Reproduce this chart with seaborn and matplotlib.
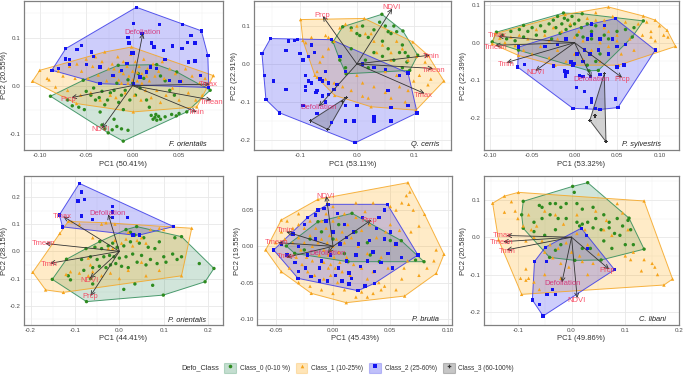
import pandas as pd
import matplotlib
matplotlib.use("Agg")
import matplotlib.pyplot as plt
import seaborn as sn
from matplotlib.lines import Line2D
from matplotlib.patches import Patch
from matplotlib.legend_handler import HandlerTuple
from matplotlib.ticker import AutoMinorLocator

# points, one list per panel and class
p1_c0 = [(-.0885,-.0221),(-.0532,.0111),(-.0155,.0422),(.0259,.0436),(.0475,.0284),(.0835,-.0097),(.0583,-.0547),(-.0101,-.1156),(-.0263,-.0983),
 (-.07,-.03),(-.065,-.042),(-.058,-.045),(-.052,-.05),(-.05,-.012),(-.045,-.02),(-.042,-.005),(-.04,-.03),(-.036,-.025),(-.033,-.012),(-.03,-.04),(-.027,-.03),(-.024,-.015),(-.02,-.01),(-.017,.005),(-.015,-.035),(-.012,-.02),(-.01,-.05),(-.008,-.01),(-.005,.012),(-.003,-.03),(0,.005),(.003,-.02),(.006,.025),(.008,-.005),(.012,.015),(.015,-.03),(.018,-.045),(.02,-.062),(.022,-.07),(.024,-.066),(.025,-.06),(.026,-.072),(.028,-.064),(.03,-.07),(.035,-.065),(.042,-.06),(.047,-.063),(.05,-.058),(.03,.02),(.035,.01),(.04,-.01),(.045,-.02),(-.033,-.082),(-.03,-.09),(-.022,-.092),(-.017,-.085),(-.012,-.09),(-.005,-.093),(-.02,-.07),(-.035,-.055)]
p1_c1 = [(-.1079,.009),(-.1,.0318),(-.0011,.0803),(.087,.0208),(.0691,-.0443),(.0007,-.0547),(-.0604,-.0374),
 (-.092,.015),(-.09,.012),(-.083,-.003),(-.08,.03),(-.075,.02),(-.07,-.01),(-.068,.04),(-.062,.015),(-.06,.045),(-.056,-.02),(-.055,.03),(-.05,.055),(-.048,.015),(-.045,-.015),(-.043,.04),(-.04,.06),(-.037,.022),(-.035,-.03),(-.033,.05),(-.03,.07),(-.028,.01),(-.026,.035),(-.024,-.02),(-.022,.045),(-.02,.02),(-.018,-.025),(-.016,.06),(-.014,.03),(-.012,.005),(-.01,.05),(-.008,-.015),(-.006,.04),(-.004,.02),(-.002,.065),(0,.03),(.002,-.02),(.003,.05),(.005,.01),(.007,.04),(.009,-.03),(.01,.025),(.012,.055),(.014,-.01),(.016,.035),(.018,.01),(.02,-.025),(.022,.045),(.024,.02),(.026,-.01),(.028,.03),(.03,-.035),(.032,.05),(.034,.015),(.036,-.02),(.04,.035),(.043,-.005),(.046,.025),(.05,-.03),(.053,.01),(.057,.035),(.06,-.015),(.064,.02),(.068,-.03),(.072,.005),(.075,-.02),(.078,.015),(-.015,.012),(-.005,.005),(.005,.028),(.015,.02),(-.01,.025),(.0,.012),(.01,.005),(-.02,.035)]
p1_c2 = [(-.087,.032),(-.072,.077),(.004,.163),(.054,.127),(.074,.114),(.081,.063),(.082,-.004),(-.035,.004),
 (.001,.129),(.029,.127),(.01,.108),(-.005,.1),(-.004,.089),(.02,.089),(.023,.08),(-.055,.084),(-.06,.075),(-.044,.07),(-.042,.06),(-.072,.055),(-.068,.054),(-.068,.044),(-.08,.035),(-.05,.044),(-.001,.068),(.001,.068),(.033,.073),(.043,.082),(.053,.077),(.059,.09),(.067,.089),(.063,.104),(.067,.051),(.06,.049),(.035,.054),(.019,.039),(.026,.035),(.015,.028),(-.006,.046),(-.012,.032),(.008,.018),(-.035,.039),(-.021,.021),(.001,.004),(.04,.011),(.051,.008),(.073,.021)]
p2_c0 = [(.044,.131),(.081,.087),(.107,.023),(.093,-.017),(-.019,-.026),(-.042,.058),(-.025,.098),
 (-.01,.095),(0,.08),(.005,.075),(.01,.1),(.02,.07),(.03,.09),(.04,.11),(.05,.1),(.055,.085),(.06,.08),(.065,.1),(.07,.085),(.045,.06),(.055,.04),(.08,.05),(.085,.03),(.09,.02),(.075,.03),(.065,.01),(.045,.02),(.03,.03),(.015,.01),(-.01,.04),(-.03,.01),(-.02,-.01),(.02,-.01),(.08,-.01),(.088,.005)]
p2_c1 = [(-.099,.117),(.013,.12),(.0985,.058),(.125,.023),(.153,-.045),(.104,-.122),(.025,-.113),(-.039,-.083),(-.074,-.03),(-.095,.062),
 (-.08,.07),(-.09,.056),(-.055,.075),(-.05,.07),(-.045,.065),(-.04,.06),(-.03,.095),(-.02,.105),(-.01,.09),(0,.1),(.015,.08),(.025,.08),(.03,.06),(.045,.05),(.06,.03),(.07,.06),(.08,.04),(.09,.01),(.105,.02),(.12,.005),(.13,-.01),(.11,-.03),(.13,-.04),(.125,-.055),(.1,-.045),(.09,-.07),(.075,-.06),(.085,-.1),(.06,-.09),(.05,-.075),(.03,-.06),(.02,-.09),(.01,-.085),(-.01,-.07),(-.025,-.06),(-.04,-.05),(-.055,-.04),(-.07,-.02),(-.065,.005),(-.07,-.035),(-.06,.02),(-.05,.04),(-.03,.02),(-.02,-.02),(0,-.03),(.01,-.05),(.05,-.02),(.07,-.03),(.035,.03),(.06,.01)]
p2_c2 = [(-.167,.027),(-.152,.067),(-.045,.064),(.09,-.024),(.106,-.129),(-.003,-.208),(-.136,-.129),(-.16,-.094),
 (-.12,.06),(-.11,.062),(-.105,.064),(-.125,.035),(-.1,.028),(-.095,.01),(-.085,.02),(-.08,.05),(-.075,.03),(-.09,-.03),(-.085,-.045),(-.08,-.05),(-.09,-.06),(-.09,-.07),(-.125,-.068),(-.147,-.045),(-.163,-.03),(-.07,-.07),(-.072,-.075),(-.055,-.02),(-.065,-.04),(-.06,-.045),(-.035,-.055),(-.04,-.068),(-.05,-.08),(-.095,-.11),(-.07,-.13),(-.055,-.1),(-.02,-.11),(0,-.11),(.03,-.14),(.06,-.15),(-.02,-.15),(-.005,-.15),(.03,-.15),(.06,-.115),(.09,-.11),(-.02,-.02),(.01,0),(.03,-.01),(.05,-.015),(.075,-.03),(.055,-.07),(-.03,.02),(-.05,-.05),(-.06,-.085),(-.045,-.155)]
p2_c3 = [(-.019,-.089),(-.082,-.15),(-.051,-.173),(-.025,-.1)]
p3_c0 = [(-.092,.028),(-.06,.046),(-.013,.079),(.009,.077),(.081,.058),(.068,.015),(.028,-.074),(.017,-.075),(-.066,-.02),(-.097,.002),
 (-.085,.02),(-.08,.01),(-.075,.03),(-.07,.005),(-.065,.035),(-.06,.015),(-.055,.03),(-.05,.04),(-.045,.02),(-.04,.045),(-.035,.03),(-.03,.05),(-.027,.01),(-.025,.06),(-.022,.04),(-.02,.07),(-.017,.025),(-.015,.05),(-.012,.065),(-.01,.035),(-.008,.06),(-.005,.045),(-.003,.07),(0,.05),(.003,.02),(.005,.06),(.008,.04),(.01,.015),(.015,.05),(.02,.03),(.025,.045),(.03,-.03),(.025,-.05),(.015,-.06),(.02,.01),(.035,.02),(.04,.01),(.05,.03),(.06,.035),(.07,.04)]
p3_c1 = [(-.0935,.024),(-.011,.075),(.04,.095),(.081,.071),(.109,.033),(.119,-.01),(.095,-.02),(.052,-.06),(-.023,-.06),(-.066,-.034),(-.097,-.003),
 (-.088,.012),(-.082,0),(-.075,.015),(-.07,-.008),(-.065,.02),(-.06,-.02),(-.055,.01),(-.05,-.03),(-.045,.035),(-.04,-.01),(-.035,.02),(-.03,-.04),(-.025,.04),(-.02,-.02),(-.015,.03),(-.01,-.05),(-.005,.05),(0,-.03),(.005,.03),(.01,-.045),(.015,.065),(.02,-.02),(.025,.06),(.03,-.05),(.035,.04),(.04,-.01),(.045,.07),(.05,.02),(.055,-.03),(.06,.055),(.065,.01),(.07,-.02),(.075,.05),(.08,.02),(.085,.055),(.09,.03),(.095,.06),(.095,.005),(.1,.045),(.09,.015),(.105,.02),(.11,.015),(-.02,.01),(-.01,.01),(0,.015),(.01,.005),(.02,.02),(.03,0),(.04,.03),(.05,.005),(-.03,.005),(.025,.08),(.035,.06)]
p3_c2 = [(-.066,-.012),(.048,.064),(.095,-.02),(.051,-.173),(-.002,-.175),(-.067,-.065),
 (-.059,-.058),(-.035,-.01),(-.025,-.062),(-.012,-.075),(-.011,-.082),(-.011,-.09),(-.009,-.078),(.006,-.088),(.01,-.05),(.003,-.03),(0,-.055),(-.002,-.06),(-.004,-.052),(-.02,-.005),(.012,-.02),(.018,-.03),(.028,-.02),(.04,-.03),(.05,-.01),(.058,-.06),(.05,-.065),(.06,-.005),(.045,.01),(.03,.01),(.02,.02),(.015,.01),(.02,.05),(.019,-.09),(.03,-.085),(.01,-.09),(.012,-.13),(.02,-.15),(.02,-.16),(.025,-.175),(.03,-.178),(.014,-.172),(.048,-.15),(.002,-.12),(-.01,.01),(.035,.045)]
p3_c3 = [(.035,-.083),(.037,-.264),(.018,-.207),(.024,-.195)]
p4_c0 = [(-.151,-.103),(-.119,-.029),(-.044,.036),(.039,.091),(.14,.054),(.213,-.063),(.193,-.112),(.099,-.161),(-.074,-.185),
 (-.115,-.09),(-.11,-.105),(-.085,-.03),(-.08,-.07),(-.075,.01),(-.065,-.02),(-.06,-.06),(-.055,.015),(-.05,-.03),(-.045,-.055),(-.04,.01),(-.035,-.02),(-.03,-.06),(-.025,.02),(-.022,-.015),(-.02,-.05),(-.015,.03),(-.012,-.02),(-.008,-.045),(-.005,.015),(0,-.025),(.005,-.055),(.01,.02),(.015,-.02),(.02,-.06),(.025,.035),(.03,-.01),(.035,.06),(.04,-.04),(.045,.03),(.05,-.015),(.055,.05),(.06,-.05),(.065,.015),(.07,-.03),(.08,.01),(.085,-.045),(.09,.035),(.1,-.02),(.105,-.04),(.12,-.01),(.125,.05),(.13,-.03),(.14,-.02),(.18,-.045),(.01,-.14),(.075,-.125),(.035,-.12),(-.065,-.1),(-.06,-.12),(.025,.07),(.015,.08)]
p4_c1 = [(-.195,-.077),(-.134,.066),(-.107,.109),(.163,.085),(.14,-.09),(-.126,-.151),(-.166,-.142),
 (-.115,.11),(-.09,.1),(-.04,.1),(-.03,.105),(-.01,.1),(.02,.07),(.04,.04),(.05,.05),(.07,.08),(.09,.085),(.06,.03),(.03,.02),(.015,.045),(-.01,.04),(-.015,.01),(-.06,.05),(-.07,-.025),(-.065,-.05),(-.07,-.09),(-.06,-.075),(-.09,-.08),(-.11,-.075),(-.12,-.085),(-.02,-.08),(0,-.1),(.02,-.07),(.05,-.04),(.06,-.09),(.09,-.07),(-.025,.01),(.005,.03),(.1,.08),(-.04,-.09)]
p4_c2 = [(-.09,.25),(.122,.091),(.031,.06),(-.128,.09),(-.135,.134),(-.085,.218),(-.093,.185),(-.078,.19),(-.085,.13),(-.06,.117),(-.016,.165),(-.016,.145),(.018,.125),(-.015,.125),(.045,.06)]
p5_c0 = [(-.0407,.0005),(-.0131,.034),(.0166,.0456),(.0596,.0078),(.0794,-.0212),(.0131,-.0212),(-.0334,-.0097),
 (-.02,.01),(-.01,.02),(0,.01),(.01,-.01),(.02,.02),(.03,.005),(.0325,-.012),(.05,.008),(.0405,-.021),(.072,-.019),(.005,.03),(-.025,-.005)]
p5_c1 = [(-.0587,-.005),(-.0451,.0364),(-.0131,.0649),(.0654,.0879),(.0799,.0442),(.0968,-.011),(.0901,-.0373),(.0625,-.0686),(.0116,-.0778),(-.0189,-.0649),(-.0451,-.035),
 (.064,.07),(.067,.075),(.06,.06),(.066,.058),(.07,.05),(.075,.028),(.068,.02),(.055,.05),(.05,.03),(.09,-.005),(.088,-.02),(.082,-.03),(.075,-.04),(.065,-.02),(.06,-.045),(.055,-.06),(.045,-.055),(.042,-.06),(.04,-.05),(.035,-.065),(.03,-.07),(.025,-.063),(.02,-.07),(.01,-.06),(0,-.065),(-.01,-.06),(-.02,-.055),(-.03,-.05),(-.038,-.03),(-.045,.02),(-.05,.005),(-.042,.01),(-.04,-.01),(-.035,.025),(-.035,.005),(-.032,-.015),(-.03,.03),(-.03,.012),(-.028,-.005),(-.027,-.025),(-.025,.025),(-.025,.005),(-.023,-.015),(-.022,-.035),(-.02,.035),(-.02,.015),(-.018,0),(-.018,-.02),(-.016,-.04),(-.015,.045),(-.015,.025),(-.013,.005),(-.012,-.012),(-.012,-.03),(-.01,.035),(-.01,.01),(-.008,-.005),(-.008,-.022),(-.008,-.045),(-.006,.025),(-.006,.045),(-.005,.005),(-.004,-.012),(-.004,-.03),(-.003,.015),(-.002,-.005),(-.002,-.025),(-.002,-.04),(0,.035),(0,.02),(0,0),(.001,-.015),(.002,-.03),(.003,.01),(.004,-.05),(.005,.04),(.005,-.008),(.006,-.022),(.008,.02),(.008,-.035),(.01,.045),(.01,.005),(.012,-.015),(.013,.03),(.015,-.04),(.016,.012),(.018,-.025),(.02,.04),(.022,0),(.025,.022),(.025,-.03),(.028,.048),(.03,-.01),(.032,.03),(.035,-.035),(.038,.012),(.04,.04),(.042,-.015),(.046,.02),(.048,-.03),(.054,.002),(.058,.022),(.062,-.03),(.03,-.045),(.035,.06),(.05,.055),(.02,.06),(0,.055),(-.03,.045),(-.04,.035)]
p5_c2 = [(-.0517,-.005),(-.0131,.05),(-.0044,.058),(.0474,.058),(.0741,-.012),(.0363,-.051),(.0218,-.0612),(-.0305,-.0442),
 (-.045,.003),(-.04,-.012),(-.035,.017),(-.033,-.022),(-.03,.0),(-.03,-.035),(-.025,.03),(-.024,-.03),(-.022,.04),(-.022,-.012),(-.019,-.042),(-.015,.043),(-.015,.01),(-.012,-.048),(-.012,-.03),(-.01,-.02),(-.006,.035),(-.005,-.048),(-.002,-.012),(0,.02),(.002,-.04),(.004,.045),(.005,-.03),(.006,.003),(.008,-.048),(.01,.03),(.012,.012),(.012,-.02),(.014,-.037),(.016,-.044),(.018,.02),(.02,-.012),(.022,.003),(.024,-.028),(.026,.04),(.03,-.02),(.032,.008),(.035,-.008),(.036,-.035),(.038,.025),(.04,.04),(.042,-.022),(.045,.01),(.048,-.01),(.05,.02),(.052,-.03),(.055,.003),(.06,-.015),(.045,.05),(.028,-.055),(.014,-.052),(-.008,.052)]
p6_c0 = [(-.09,.096),(.002,.136),(.03,.146),(.107,.051),(.135,-.032),(.055,-.061),(.006,-.062),(-.041,-.054),(-.09,.024),(-.093,.06),
 (.005,.12),(-.06,.085),(-.055,.08),(-.04,.09),(-.03,.09),(-.02,.08),(-.01,.09),(.01,.09),(.02,.075),(.04,.08),(-.055,.05),(-.04,.06),(-.025,.05),(-.01,.05),(.01,.04),(.02,.035),(.03,.04),(.045,.05),(.06,.06),(.07,.04),(.085,.05),(.095,.03),(.105,.045),(.11,.02),(.08,.01),(.07,.025),(.055,.02),(.04,.025),(-.07,.015),(-.05,.005),(-.03,.02),(-.02,-.02),(-.03,-.035),(.02,-.03),(.035,-.03),(.06,-.01),(.075,-.03),(.1,-.02),(.115,-.02),(-.07,.04),(.015,.03),(.09,.005)]
p6_c1 = [(-.147,.091),(-.099,.12),(.135,.097),(.188,-.112),(.172,-.128),(-.093,-.153),(-.136,-.007),
 (-.125,.11),(-.112,.095),(-.125,.067),(-.105,.07),(-.1,.05),(-.09,.03),(-.08,.06),(-.075,.02),(-.065,.03),(-.05,.07),(-.03,.06),(-.015,.035),(.01,.06),(.025,.02),(.045,.07),(.065,.045),(.085,.09),(.095,.065),(.105,.02),(.075,.005),(.115,-.04),(.11,-.06),(.135,-.06),(.15,-.07),(.155,-.08),(.16,-.1),(.13,-.09),(.1,-.05),(-.085,-.01),(-.07,0),(-.055,-.01),(-.04,-.02),(-.025,-.03),(-.01,-.015),(0,-.04),(.015,-.05),(.03,-.02),(.05,-.045),(-.05,-.04),(-.035,-.055),(-.02,-.07),(-.005,-.08),(.02,-.065),(.04,-.07),(-.085,-.115),(-.095,-.11),(-.08,-.11),(-.085,-.085),(-.06,-.14),(-.05,-.1),(-.02,-.11),(.03,-.1),(-.07,-.12),(.06,.02),(.01,.01)]
p6_c2 = [(.018,.024),(.08,-.087),(-.053,-.211),(-.073,-.168),(-.069,-.065),(-.049,-.027),(.028,.005),(.03,-.03),(-.047,-.065),(-.035,-.14),(-.046,-.154),(-.03,-.153),(-.06,-.18)]

panel_points = [
    [p1_c0, p1_c1, p1_c2, []],
    [p2_c0, p2_c1, p2_c2, p2_c3],
    [p3_c0, p3_c1, p3_c2, p3_c3],
    [p4_c0, p4_c1, p4_c2, []],
    [p5_c0, p5_c1, p5_c2, []],
    [p6_c0, p6_c1, p6_c2, []],
]

load_names = ["Defoliation", "NDVI", "Prcp", "Tmax", "Tmean", "Tmin"]
# arrow tips in the same order
tips = [
    [(.011,.109),(-.033,-.089),(-.066,-.025),(.083,.003),(.085,-.03),(.069,-.055)],
    [(-.067,-.112),(.062,.146),(-.06,.126),(.119,-.078),(.134,-.012),(.128,.023)],
    [(.02,-.093),(-.046,-.075),(.056,-.093),(-.09,.017),(-.0935,-.007),(-.08,-.053)],
    [(-.025,.136),(-.066,-.099),(-.065,-.164),(-.126,.128),(-.167,.029),(-.156,-.044)],
    [(-.0044,-.0097),(-.0058,.0695),(.0334,.0364),(-.0407,-.0152),(-.048,.0051),(-.0407,.0202)],
    [(-.018,-.121),(.0105,-.163),(.07,-.086),(-.121,.0045),(-.127,-.012),(-.121,-.034)],
]
label_pos = [
    [(.011,.11),(-.035,-.091),(-.069,-.028),(.081,.003),(.085,-.035),(.069,-.055)],
    [(-.067,-.116),(.061,.148),(-.061,.128),(.116,-.084),(.135,-.016),(.13,.019)],
    [(.02,-.0985),(-.046,-.08),(.056,-.0975),(-.0915,.0195),(-.0935,-.013),(-.081,-.0585)],
    [(-.027,.14),(-.068,-.109),(-.066,-.168),(-.128,.129),(-.17,.029),(-.158,-.05)],
    [(-.0044,-.0097),(-.0067,.0686),(.032,.035),(-.0407,-.0143),(-.0488,.0055),(-.0416,.0212)],
    [(-.017,-.123),(.01,-.17),(.067,-.089),(-.129,.004),(-.131,-.014),(-.119,-.038)],
]

species = ["F. orientalis", "Q. cerris", "P. sylvestris", "P. orientalis", "P. brutia", "C. libani"]
species_pos = [(.059,-.122), (.121,-.212), (.079,-.271), (.152,-.253), (.081,-.101), (.151,-.221)]
pc1_pct = ["50.41", "53.11", "53.32", "44.41", "45.43", "49.86"]
pc2_pct = ["20.55", "22.91", "22.39", "28.15", "19.55", "20.58"]
xlims = [(-.117,.097), (-.181,.165), (-.107,.123), (-.2147,.2327), (-.066,.1038), (-.1636,.2)]
ylims = [(-.134,.176), (-.227,.166), (-.286,.111), (-.271,.276), (-.1086,.0967), (-.235,.163)]
xticks = [[-.1,-.05,0,.05], [-.1,0,.1], [-.1,-.05,0,.05,.1], [-.2,-.1,0,.1,.2], [-.05,0,.05,.1], [-.1,0,.1,.2]]
yticks = [[-.1,0,.1], [-.2,-.1,0,.1], [-.2,-.1,0,.1], [-.2,-.1,0,.1,.2], [-.1,-.05,0,.05], [-.2,-.1,0,.1]]
x_fmt = ["%.2f", "%.1f", "%.2f", "%.1f", "%.2f", "%.1f"]
y_fmt = ["%.1f", "%.1f", "%.1f", "%.1f", "%.2f", "%.1f"]
# axes boxes in pixels: left, top, right, bottom
boxes = [(24,1,222.7,150), (254,1,450.7,150), (483.7,1,679,150),
         (24,176.3,222.7,325), (257.3,176.3,452,325), (483.7,176.3,679,325)]

class_names = ["Class_0 (0-10 %)", "Class_1 (10-25%)", "Class_2 (25-60%)", "Class_3 (60-100%)"]
class_colors = ["#2E8B1F", "#F5A31A", "#1414F0", "#333333"]
edge_colors = ["#2E8B57", "#F5A623", "#3A3AE8", "#333333"]
fill_colors = ["#2E8B57", "#FFA500", "#1E1EF0", "#333333"]
class_markers = ["o", "^", "s", "P"]
FONT = "Liberation Sans"
W, H = 685, 375


def convex_hull(pts):
    pts = sorted(set(pts))
    if len(pts) < 3:
        return pts
    def half(seq):
        out = []
        for p in seq:
            while len(out) > 1 and ((out[-1][0]-out[-2][0])*(p[1]-out[-2][1]) - (out[-1][1]-out[-2][1])*(p[0]-out[-2][0])) <= 0:
                out.pop()
            out.append(p)
        return out[:-1]
    return half(pts) + half(pts[::-1])


def draw_panel(ax, i, w_px, h_px):
    for c, pts in enumerate(panel_points[i]):
        if pts:
            hull = convex_hull(pts)
            ax.fill([p[0] for p in hull], [p[1] for p in hull], facecolor=fill_colors[c], alpha=.22, lw=0, zorder=2)
            ax.fill([p[0] for p in hull], [p[1] for p in hull], facecolor="none", edgecolor=edge_colors[c], lw=.7, alpha=.85, zorder=2.1)
    rows = []
    for c, pts in enumerate(panel_points[i]):
        rows += [(p[0], p[1], class_names[c]) for p in pts]
    df = pd.DataFrame(rows, columns=["pc1", "pc2", "Defo_Class"])
    sn.scatterplot(data=df, x="pc1", y="pc2", hue="Defo_Class", style="Defo_Class",
                   hue_order=class_names, style_order=class_names,
                   palette=dict(zip(class_names, class_colors)),
                   markers=dict(zip(class_names, class_markers)),
                   s=6, linewidth=0, legend=False, ax=ax, zorder=3)
    for tip, pos, name in zip(tips[i], label_pos[i], load_names):
        ax.annotate("", xy=tip, xytext=(0, 0), zorder=4,
                    arrowprops=dict(arrowstyle="->,head_length=.25,head_width=.12", color="#333333", lw=.6, shrinkA=0, shrinkB=0))
        col = "#D6246E" if name == "Defoliation" else "#F8344F"
        ax.text(pos[0], pos[1], name, color=col, alpha=.85, fontsize=5.5, ha="center", va="center", family=FONT, zorder=5)
    ax.text(species_pos[i][0], species_pos[i][1], species[i], style="italic", color="#222222",
            fontsize=5.4, ha="center", va="center", family=FONT, zorder=5)
    ax.set_xlim(xlims[i])
    ax.set_ylim(ylims[i])
    ax.set_xticks(xticks[i])
    ax.set_yticks(yticks[i])
    ax.set_xticklabels([x_fmt[i] % t for t in xticks[i]])
    ax.set_yticklabels([y_fmt[i] % t for t in yticks[i]])
    ax.set_xlabel("PC1 (%s%%)" % pc1_pct[i], fontsize=5.5, color="#333333", family=FONT)
    ax.set_ylabel("PC2 (%s%%)" % pc2_pct[i], fontsize=5.5, color="#333333", family=FONT)
    ax.xaxis.set_label_coords(.5, -10.5/h_px)
    ax.yaxis.set_label_coords(-16.5/w_px, .5)
    ax.xaxis.set_minor_locator(AutoMinorLocator(2))
    ax.yaxis.set_minor_locator(AutoMinorLocator(2))
    ax.tick_params(labelsize=4.5, colors="#666666", length=1.5, width=.5, pad=1)
    ax.tick_params(which="minor", length=0)
    for lab in ax.get_xticklabels() + ax.get_yticklabels():
        lab.set_family(FONT)
        lab.set_color("#4D4D4D")
    ax.grid(True, which="major", color="#E8E8E8", lw=.6)
    ax.grid(True, which="minor", color="#F2F2F2", lw=.35)
    ax.set_axisbelow(True)
    for s in ax.spines.values():
        s.set_color("#808080")
        s.set_linewidth(.9)


if __name__ == '__main__':
    sn.set_theme(style="whitegrid")
    plt.rcParams["font.family"] = [FONT, "DejaVu Sans"]
    fig = plt.figure(figsize=(W/100, H/100), dpi=100)
    for i, (l, t, r, b) in enumerate(boxes):
        ax = fig.add_axes([l/W, 1-b/H, (r-l)/W, (b-t)/H])
        draw_panel(ax, i, r-l, b-t)

    handles = []
    for c in range(4):
        patch = Patch(facecolor=fill_colors[c], edgecolor=edge_colors[c], alpha=.28, lw=.8)
        dot = Line2D([], [], marker=class_markers[c], color=class_colors[c], ls="", ms=2.6, mew=0)
        handles.append((patch, dot))
    fig.legend(handles, class_names, handler_map={tuple: HandlerTuple(ndivide=1, pad=0)},
               ncol=4, frameon=False, loc="center left", bbox_to_anchor=(224/W, 1-368/H),
               prop=dict(family=FONT, size=4.7), handlelength=1.8, handleheight=2.2, handletextpad=.6,
               columnspacing=.9, borderpad=0, borderaxespad=0, labelcolor="#333333")
    fig.text(181.7/W, 1-368/H, "Defo_Class", fontsize=5.3, color="#333333", family=FONT, ha="left", va="center")
    fig.savefig("out.png", dpi=100)
